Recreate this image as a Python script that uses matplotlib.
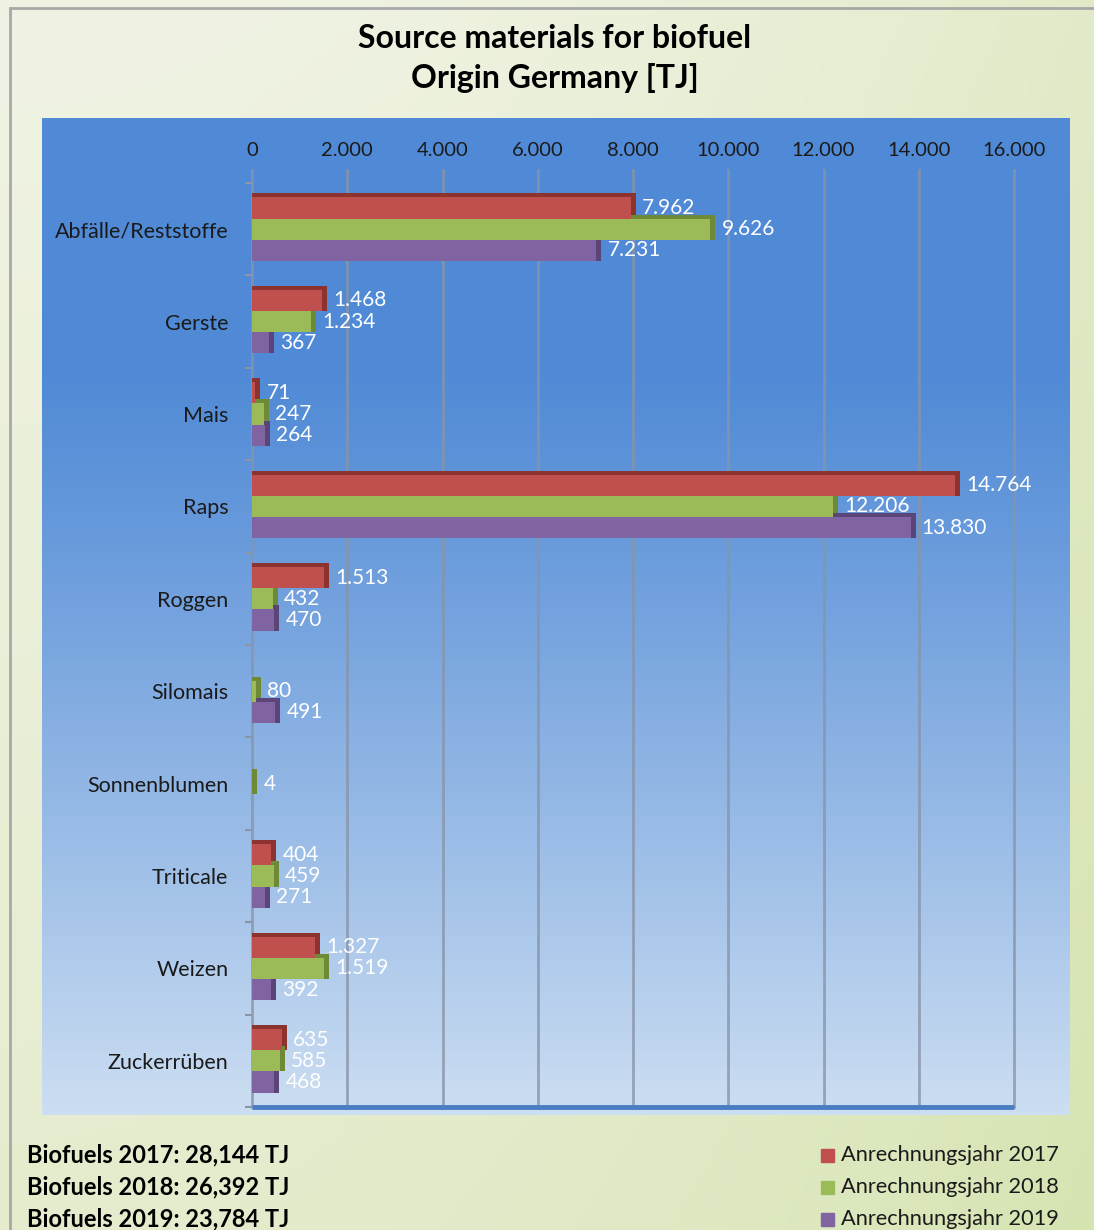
import numpy as np
import matplotlib
matplotlib.use("Agg")
import matplotlib.pyplot as plt
from matplotlib.patches import Rectangle
import matplotlib.transforms as mtransforms

# ---------------- data ----------------
categories = ["Abfälle/Reststoffe", "Gerste", "Mais", "Raps", "Roggen",
              "Silomais", "Sonnenblumen", "Triticale", "Weizen", "Zuckerrüben"]
values_2017 = [7962, 1468, 71, 14764, 1513, 0, 0, 404, 1327, 635]
values_2018 = [9626, 1234, 247, 12206, 432, 80, 4, 459, 1519, 585]
values_2019 = [7231, 367, 264, 13830, 470, 491, 0, 271, 392, 468]
series_labels = ["Anrechnungsjahr 2017", "Anrechnungsjahr 2018", "Anrechnungsjahr 2019"]
totals_text = ["Biofuels 2017: 28,144 TJ", "Biofuels 2018: 26,392 TJ", "Biofuels 2019: 23,784 TJ"]
x_ticks = [0, 2000, 4000, 6000, 8000, 10000, 12000, 14000, 16000]
x_tick_labels = ["0", "2.000", "4.000", "6.000", "8.000", "10.000", "12.000", "14.000", "16.000"]
title_lines = ["Source materials for biofuel", "Origin Germany [TJ]"]

colors = ["#c0504d", "#9bbb59", "#8064a2"]
dark_colors = ["#8c3330", "#6f8a37", "#5a4478"]

FONT = "Lato"
plt.rcParams["font.family"] = [FONT, "DejaVu Sans"]

W, H = 1094, 1230
fig = plt.figure(figsize=(W / 100, H / 100), dpi=100)


def fx(px):
    return px / W


def fy(py):
    return 1 - py / H


# ---------------- outer background ----------------
bg = fig.add_axes([0, 0, 1, 1])
bg.set_xlim(0, 1)
bg.set_ylim(0, 1)
bg.axis("off")
gx, gy = np.meshgrid(np.linspace(0, 1, 200), np.linspace(0, 1, 200))
t = np.clip(0.55 * gx ** 2 + 0.45 * gy, 0, 1)
c0 = np.array([240, 243, 228]) / 255
c1 = np.array([214, 228, 178]) / 255
img = c0[None, None, :] * (1 - t[..., None]) + c1[None, None, :] * t[..., None]
bg.imshow(img, extent=[0, 1, 0, 1], aspect="auto", origin="upper", zorder=0)
bg.add_patch(Rectangle((fx(10), -0.05), 1.0, fy(8) + 0.05, fill=False,
                       edgecolor="#a8a8a8", lw=2, zorder=1))

# ---------------- plot area (blue gradient) ----------------
pa = fig.add_axes([fx(42), fy(1115), (1070 - 42) / W, (1115 - 118) / H])
pa.axis("off")
py_ = np.linspace(0, 1, 300)
s = np.clip((py_ - 0.25) / 0.75, 0, 1) ** 1.1
top = np.array([80, 138, 214]) / 255
bot = np.array([204, 222, 242]) / 255
col = top[None, :] * (1 - s[:, None]) + bot[None, :] * s[:, None]
pimg = np.repeat(col[:, None, :], 10, axis=1)
pa.imshow(pimg, extent=[0, 1, 0, 1], aspect="auto", origin="upper")
pa.set_xlim(0, 1)
pa.set_ylim(0, 1)

# ---------------- main axes ----------------
ax_left, ax_right = 252, 1014
ax = fig.add_axes([fx(ax_left), fy(1107), (ax_right - ax_left) / W, (1107 - 183) / H])
ax.patch.set_alpha(0)
xmax = x_ticks[-1]
ax.set_xlim(0, xmax)
ax.set_ylim(len(categories) - 0.5, -0.5)
for sp in ax.spines.values():
    sp.set_visible(False)

ax.xaxis.tick_top()
ax.set_xticks(x_ticks)
ax.set_xticklabels(x_tick_labels, fontsize=14.5, color="#1a1a1a")
ax.tick_params(axis="x", length=0, pad=17)

ypos = np.arange(len(categories))
ax.set_yticks(ypos)
ax.set_yticklabels(categories, fontsize=15.5, color="#1a1a1a")
ax.tick_params(axis="y", which="major", length=0, pad=17)
ax.set_yticks(np.arange(len(categories) + 1) - 0.5, minor=True)
ax.tick_params(axis="y", which="minor", length=5, color="#8a95a5", width=1.5)

# grid / walls
for tk in x_ticks:
    ax.axvline(tk, ymin=0, ymax=1.014, color="#8894a8", lw=2, alpha=0.8,
               clip_on=False, zorder=1)
ax.plot([0, xmax], [len(categories) - 0.5, len(categories) - 0.5],
        color="#4a7cc2", lw=3.5, solid_capstyle="butt", clip_on=False, zorder=1)

# bars with pseudo 3D depth (depth of ~5 px expressed in data units)
depth = 5 * xmax / (ax_right - ax_left)
h = 0.23
offsets = [-h, 0, h]
series = [values_2017, values_2018, values_2019]
shift_up = mtransforms.ScaledTranslation(0, 4 / 100, fig.dpi_scale_trans)
for vals, off, dc in zip(series, offsets, dark_colors):
    v = np.array(vals)
    m = v > 0
    ax.barh(ypos[m] + off, v[m] + depth, height=h, color=dc, zorder=2,
            transform=ax.transData + shift_up)
    ax.barh(ypos[m] + off, np.full(m.sum(), depth), left=v[m], height=h,
            color=dc, zorder=2)
for vals, off, c in zip(series, offsets, colors):
    v = np.array(vals)
    m = v > 0
    ax.barh(ypos[m] + off, v[m], height=h, color=c, zorder=3)

for vals, off in zip(series, offsets):
    for yi, v in zip(ypos, vals):
        if v <= 0:
            continue
        ax.annotate(f"{v:,}".replace(",", "."), xy=(v, yi + off),
                    xytext=(8, 0), textcoords="offset points",
                    va="center", ha="left", color="white", fontsize=15,
                    zorder=5)

# ---------------- title ----------------
fig.text(fx(555), fy(38), title_lines[0], ha="center", va="center",
         fontsize=23, fontweight="bold", color="black")
fig.text(fx(555), fy(78), title_lines[1], ha="center", va="center",
         fontsize=23, fontweight="bold", color="black")

# ---------------- bottom texts ----------------
rows_y = [1155, 1187, 1219]
for txt, ry in zip(totals_text, rows_y):
    fig.text(fx(27), fy(ry), txt, ha="left", va="center", fontsize=17,
             fontweight="bold", color="black")

for lab, c, ry in zip(series_labels, colors, rows_y):
    fig.patches.append(Rectangle((fx(821), fy(ry + 7)), 13 / W, 13 / H,
                                 transform=fig.transFigure, color=c))
    fig.text(fx(841), fy(ry), lab, ha="left", va="center", fontsize=15.7,
             color="#1a1a1a")

fig.savefig("out.png", dpi=100)
